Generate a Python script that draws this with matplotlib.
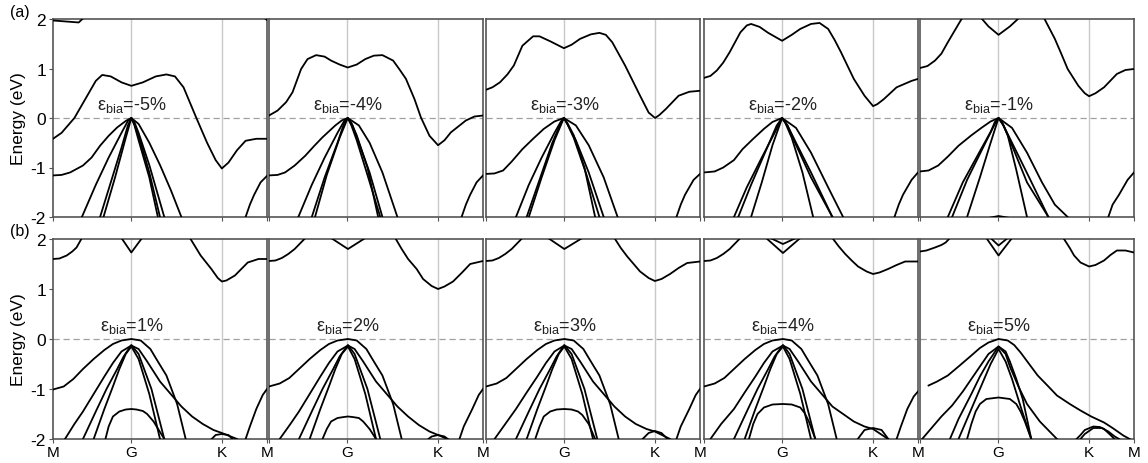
import numpy as np
import matplotlib.pyplot as plt

plt.rcParams['font.family'] = ['Liberation Sans', 'DejaVu Sans']

# k-path positions (normalised): M - G - K - M
k_ticks = [0, 0.366, 0.789, 1.0]
k_names = ['M', 'G', 'K', 'M']

labels_a = ['-5%', '-4%', '-3%', '-2%', '-1%']
labels_b = ['1%', '2%', '3%', '4%', '5%']

# bands: (k, E) pairs
bands_m5 = [
    ([0, .04, .10, .16, .20, .23, .27, .32, .366, .42, .48, .53, .57, .61, .67, .72, .76, .789, .82, .86, .90, .95, 1.0],
     [-.42, -.3, 0, .45, .75, .87, .84, .72, .65, .72, .84, .88, .84, .62, 0, -.5, -.85, -1.02, -.9, -.65, -.46, -.42, -.42]),
    ([0, .12, .15], [1.97, 1.93, 2.05]),
    ([.98, 1.0], [2.05, 1.98]),
    ([0, .04, .08, .14, .18, .22, .26, .30, .34, .366, .40, .45, .50, .55, .60],
     [-1.16, -1.15, -1.10, -.96, -.8, -.56, -.36, -.19, -.06, 0, -.12, -.5, -.95, -1.45, -2.0]),
    ([.135, .20, .26, .32, .35, .366, .38, .40, .45, .52], [-2, -1.35, -.8, -.3, -.06, 0, -.08, -.3, -.95, -2]),
    ([.22, .27, .32, .35, .366, .38, .41, .45, .50], [-2, -1.3, -.6, -.15, 0, -.12, -.5, -1.1, -2]),
    ([.236, .29, .34, .366, .38, .40, .45, .49], [-2, -1.2, -.4, 0, -.14, -.45, -1.2, -2]),
    ([.90, .92, .94, .97, 1.0], [-2, -1.75, -1.55, -1.3, -1.17]),
]
bands_m4 = [
    ([0, .04, .08, .11, .15, .18, .22, .26, .29, .33, .368, .41, .45, .49, .53, .58, .61, .64, .68, .71, .75, .79, .82, .85, .92, .96, 1.0],
     [.05, .15, .32, .52, .99, 1.19, 1.27, 1.24, 1.16, 1.08, 1.02, 1.08, 1.19, 1.26, 1.27, 1.16, .98, .79, .38, .01, -.36, -.55, -.45, -.29, -.05, .03, .05]),
    ([0, .04, .075, .12, .17, .21, .25, .31, .34, .368, .42, .47, .53, .60],
     [-1.16, -1.15, -1.10, -.96, -.76, -.57, -.39, -.15, -.05, 0, -.15, -.5, -1.1, -2.0]),
    ([.137, .20, .26, .32, .35, .368, .385, .41, .46, .51], [-2, -1.35, -.8, -.3, -.07, 0, -.1, -.35, -1.0, -2]),
    ([.20, .26, .32, .35, .368, .39, .42, .47, .53], [-2, -1.2, -.5, -.12, 0, -.15, -.5, -1.1, -2]),
    ([.215, .27, .33, .368, .385, .41, .46, .52], [-2, -1.15, -.4, 0, -.15, -.45, -1.15, -2]),
    ([.90, .92, .94, .97, 1.0], [-2, -1.75, -1.55, -1.3, -1.16]),
]
bands_m3 = [
    ([0, .03, .065, .10, .13, .17, .22, .25, .30, .364, .40, .44, .49, .53, .56, .59, .65, .72, .76, .79, .81, .84, .90, .95, 1.0],
     [.57, .62, .72, .88, 1.06, 1.46, 1.65, 1.65, 1.55, 1.41, 1.48, 1.6, 1.69, 1.72, 1.68, 1.53, 1.06, .45, .11, 0, .06, .18, .45, .53, .55]),
    ([0, .04, .08, .12, .17, .22, .27, .32, .364, .42, .48, .55, .615],
     [-1.13, -1.12, -1.06, -.88, -.63, -.42, -.22, -.07, 0, -.15, -.55, -1.2, -2.0]),
    ([.14, .20, .26, .32, .35, .364, .38, .41, .46, .51], [-2, -1.35, -.8, -.3, -.07, 0, -.1, -.35, -1.0, -2]),
    ([.19, .25, .31, .35, .364, .38, .42, .48, .55], [-2, -1.25, -.5, -.1, 0, -.12, -.45, -1.1, -2]),
    ([.20, .26, .32, .364, .38, .41, .47, .53], [-2, -1.2, -.45, 0, -.12, -.4, -1.15, -2]),
    ([.89, .91, .93, .97, 1.0], [-2, -1.75, -1.55, -1.25, -1.13]),
]
bands_m2 = [
    ([0, .03, .06, .09, .12, .17, .20, .22, .26, .30, .365, .41, .45, .50, .54, .58, .61, .64, .70, .75, .79, .81, .84, .90, .97, 1.0],
     [.81, .85, .96, 1.12, 1.33, 1.73, 1.87, 1.90, 1.84, 1.72, 1.56, 1.68, 1.80, 1.90, 1.92, 1.80, 1.58, 1.33, .79, .45, .24, .28, .38, .62, .75, .79]),
    ([0, .05, .09, .14, .18, .23, .28, .32, .365, .43, .50, .58, .65],
     [-1.10, -1.08, -1.0, -.85, -.63, -.42, -.22, -.08, 0, -.2, -.7, -1.4, -2.0]),
    ([.14, .20, .27, .33, .365, .38, .41, .46, .51], [-2, -1.4, -.8, -.3, 0, -.1, -.4, -1.1, -2]),
    ([.16, .22, .29, .34, .365, .39, .43, .50, .60], [-2, -1.35, -.65, -.15, 0, -.15, -.5, -1.1, -2]),
    ([.22, .27, .32, .365, .39, .42, .50, .60], [-2, -1.3, -.55, 0, -.15, -.45, -1.2, -2]),
    ([.89, .91, .93, .97, 1.0], [-2, -1.75, -1.55, -1.25, -1.10]),
]
bands_m1 = [
    ([0, .035, .07, .10, .13, .16, .19, .21], [1.01, 1.05, 1.16, 1.3, 1.53, 1.75, 1.97, 2.1]),
    ([.57, .60, .63, .66, .69, .74, .77, .79, .82, .86, .92, .96, 1.0],
     [2.1, 1.85, 1.6, 1.3, .99, .65, .5, .44, .5, .62, .89, .97, .99]),
    ([.28, .32, .367, .42, .47], [2.05, 1.85, 1.68, 1.85, 2.05]),
    ([0, .04, .085, .13, .18, .24, .29, .33, .367, .43, .50, .57, .63, .69],
     [-1.08, -1.06, -.96, -.78, -.56, -.35, -.19, -.07, 0, -.2, -.7, -1.3, -1.75, -2.0]),
    ([.13, .20, .27, .33, .35, .367, .385, .41, .45, .50], [-2, -1.3, -.75, -.28, -.08, 0, -.1, -.35, -1.05, -2]),
    ([.15, .22, .30, .35, .367, .39, .43, .51, .60], [-2, -1.25, -.55, -.12, 0, -.15, -.5, -1.2, -2]),
    ([.22, .28, .33, .367, .39, .42, .50, .60], [-2, -1.2, -.5, 0, -.15, -.45, -1.3, -2]),
    ([.32, .367, .42], [-2.02, -1.98, -2.02]),
    ([.88, .90, .93, .97, 1.0], [-2, -1.75, -1.55, -1.25, -1.10]),
]

bands_p1 = [
    ([0, .03, .064, .09, .11, .135], [1.6, 1.61, 1.67, 1.75, 1.83, 2.02]),
    ([.32, .366, .416], [2.02, 1.73, 2.02]),
    ([.64, .69, .74, .77, .789, .81, .85, .91, .96, 1.0],
     [2.02, 1.67, 1.4, 1.22, 1.15, 1.17, 1.27, 1.53, 1.6, 1.6]),
    ([0, .05, .095, .14, .19, .24, .28, .32, .366, .41, .455, .49, .53, .58, .62],
     [-1.01, -.95, -.8, -.6, -.4, -.22, -.1, -.03, 0, -.03, -.2, -.45, -.73, -1.3, -2.0]),
    ([.056, .10, .14, .19, .24, .28, .32, .366, .40, .44, .50, .55, .60, .65, .70, .75, .789, .86],
     [-2, -1.7, -1.45, -1.1, -.75, -.48, -.25, -.13, -.2, -.45, -.85, -1.1, -1.35, -1.55, -1.7, -1.82, -1.88, -2.0]),
    ([.14, .20, .25, .30, .33, .366, .40, .46, .52], [-2, -1.45, -1.0, -.6, -.35, -.12, -.3, -1.0, -2]),
    ([.19, .24, .28, .31, .34, .366, .40, .45, .50], [-2, -1.4, -.95, -.6, -.3, -.15, -.4, -1.1, -2]),
    ([.245, .26, .28, .31, .34, .366, .39, .42, .44, .47, .52], [-2, -1.75, -1.55, -1.45, -1.41, -1.4, -1.41, -1.44, -1.5, -1.65, -2]),
    ([.73, .76, .789, .82, .85], [-2.05, -1.92, -1.9, -1.92, -2.05]),
    ([.90, .92, .95, .98, 1.0], [-2, -1.75, -1.4, -1.12, -1.0]),
]
bands_p2 = [
    ([0, .03, .06, .09, .12, .17], [1.56, 1.57, 1.62, 1.7, 1.8, 2.02]),
    ([.29, .369, .45], [2.02, 1.8, 2.02]),
    ([.59, .62, .65, .69, .72, .76, .79, .82, .86, .90, .94, 1.0],
     [2.02, 1.8, 1.6, 1.4, 1.2, 1.06, 1.0, 1.05, 1.15, 1.32, 1.5, 1.56]),
    ([0, .05, .095, .14, .19, .24, .28, .32, .369, .41, .455, .49, .53, .58, .62],
     [-.95, -.89, -.78, -.6, -.4, -.22, -.1, -.03, 0, -.03, -.2, -.45, -.73, -1.3, -2.0]),
    ([.05, .10, .14, .19, .24, .28, .32, .369, .40, .44, .50, .55, .60, .65, .70, .75, .79, .86],
     [-2, -1.7, -1.45, -1.1, -.75, -.48, -.25, -.13, -.2, -.45, -.85, -1.1, -1.35, -1.55, -1.72, -1.85, -1.92, -2.05]),
    ([.14, .20, .25, .30, .33, .369, .40, .46, .52], [-2, -1.45, -1.0, -.6, -.35, -.12, -.3, -1.0, -2]),
    ([.19, .24, .28, .31, .34, .369, .40, .45, .50], [-2, -1.4, -.95, -.6, -.3, -.15, -.4, -1.1, -2]),
    ([.25, .27, .29, .32, .35, .369, .39, .42, .44, .47, .50], [-2, -1.8, -1.65, -1.58, -1.56, -1.55, -1.56, -1.58, -1.65, -1.8, -2]),
    ([.73, .76, .79, .82, .85], [-2.05, -1.95, -1.92, -1.95, -2.05]),
    ([.89, .91, .95, .98, 1.0], [-2, -1.75, -1.4, -1.12, -1.0]),
]
bands_p3 = [
    ([0, .03, .06, .09, .12, .17], [1.56, 1.57, 1.62, 1.7, 1.8, 2.02]),
    ([.29, .366, .45], [2.02, 1.8, 2.02]),
    ([.60, .63, .66, .69, .72, .76, .789, .82, .86, .90, .94, 1.0],
     [2.02, 1.82, 1.65, 1.5, 1.35, 1.22, 1.16, 1.2, 1.3, 1.42, 1.52, 1.55]),
    ([0, .05, .095, .14, .19, .24, .28, .32, .366, .41, .455, .49, .53, .58, .62],
     [-.95, -.89, -.78, -.6, -.4, -.22, -.1, -.03, 0, -.03, -.2, -.45, -.73, -1.3, -2.0]),
    ([.04, .09, .14, .19, .24, .28, .32, .366, .40, .44, .50, .55, .60, .65, .70, .75, .789, .86],
     [-2, -1.7, -1.4, -1.07, -.75, -.48, -.25, -.13, -.2, -.45, -.85, -1.1, -1.35, -1.55, -1.7, -1.8, -1.85, -2.0]),
    ([.14, .20, .25, .30, .33, .366, .40, .46, .52], [-2, -1.45, -1.0, -.6, -.35, -.12, -.3, -1.0, -2]),
    ([.19, .24, .28, .31, .34, .366, .40, .45, .50], [-2, -1.4, -.95, -.6, -.3, -.15, -.4, -1.1, -2]),
    ([.23, .25, .27, .30, .33, .366, .40, .43, .45, .48, .51], [-2, -1.75, -1.55, -1.45, -1.41, -1.4, -1.41, -1.45, -1.52, -1.7, -2]),
    ([.72, .76, .789, .82, .86], [-2.05, -1.88, -1.84, -1.88, -2.05]),
    ([.89, .91, .95, .98, 1.0], [-2, -1.75, -1.4, -1.12, -1.0]),
]
bands_p4 = [
    ([0, .03, .06, .09, .12, .17], [1.56, 1.57, 1.62, 1.7, 1.8, 2.02]),
    ([.29, .369, .45], [2.02, 1.72, 2.02]),
    ([.31, .369, .43], [2.02, 1.9, 2.02]),
    ([.60, .63, .66, .69, .72, .76, .79, .82, .86, .90, .94, 1.0],
     [2.02, 1.85, 1.7, 1.57, 1.45, 1.35, 1.3, 1.33, 1.4, 1.48, 1.55, 1.55]),
    ([0, .05, .095, .14, .19, .24, .28, .32, .369, .41, .455, .49, .53, .58, .62],
     [-.95, -.89, -.78, -.6, -.4, -.22, -.1, -.03, 0, -.03, -.2, -.45, -.73, -1.3, -2.0]),
    ([.03, .08, .14, .19, .24, .28, .32, .369, .40, .44, .50, .55, .60, .65, .70, .75, .79, .86],
     [-2, -1.7, -1.4, -1.07, -.75, -.48, -.25, -.13, -.2, -.45, -.85, -1.1, -1.35, -1.5, -1.65, -1.75, -1.8, -2.0]),
    ([.14, .20, .25, .30, .33, .369, .40, .46, .52], [-2, -1.45, -1.0, -.6, -.35, -.12, -.3, -1.0, -2]),
    ([.19, .24, .28, .31, .34, .369, .40, .45, .50], [-2, -1.4, -.95, -.6, -.3, -.15, -.4, -1.1, -2]),
    ([.21, .23, .25, .28, .32, .369, .41, .45, .47, .49, .52], [-2, -1.7, -1.5, -1.37, -1.31, -1.3, -1.31, -1.37, -1.48, -1.65, -2]),
    ([.71, .75, .79, .83, .87], [-2.05, -1.82, -1.78, -1.82, -2.05]),
    ([.90, .92, .95, .98, 1.0], [-2, -1.75, -1.4, -1.15, -1.05]),
]
bands_p5 = [
    ([0, .03, .07, .10, .12, .14], [1.75, 1.77, 1.83, 1.88, 1.93, 2.02]),
    ([.31, .367, .43], [2.02, 1.67, 2.02]),
    ([.33, .367, .41], [2.02, 1.87, 2.02]),
    ([.67, .70, .72, .75, .79, .82, .86, .89, .92, .96, 1.0],
     [2.02, 1.82, 1.67, 1.53, 1.45, 1.48, 1.57, 1.68, 1.77, 1.77, 1.73]),
    ([.04, .08, .13, .18, .24, .28, .32, .367, .41, .44, .47, .51, .55, .60, .64, .70, .75, .80, .86, .90, .95, .98],
     [-.93, -.85, -.73, -.55, -.33, -.18, -.07, 0, -.03, -.12, -.27, -.5, -.73, -.95, -1.13, -1.3, -1.43, -1.55, -1.67, -1.78, -1.93, -2.0]),
    ([.01, .06, .10, .15, .20, .24, .28, .32, .367, .40, .42, .45, .48, .52],
     [-2, -1.75, -1.55, -1.33, -1.05, -.8, -.55, -.3, -.15, -.25, -.45, -.8, -1.2, -2]),
    ([.14, .18, .24, .28, .32, .367, .40, .42, .46, .50, .56, .64], [-2, -1.6, -1.1, -.75, -.45, -.15, -.3, -.55, -.95, -1.3, -1.65, -2]),
    ([.18, .22, .26, .30, .33, .367, .40, .43, .47, .52], [-2, -1.6, -1.2, -.8, -.5, -.2, -.45, -.8, -1.35, -2]),
    ([.22, .24, .26, .28, .31, .367, .42, .45, .47, .49, .52], [-2, -1.7, -1.45, -1.3, -1.2, -1.17, -1.2, -1.3, -1.45, -1.65, -2]),
    ([.72, .75, .77, .81, .84, .86, .89, .92], [-2.05, -1.92, -1.82, -1.75, -1.76, -1.8, -1.92, -2.05]),
    ([.74, .77, .81, .85, .88, .91, .95], [-2.05, -1.9, -1.78, -1.78, -1.85, -1.95, -2.05]),
]

row_a = [bands_m5, bands_m4, bands_m3, bands_m2, bands_m1]
row_b = [bands_p1, bands_p2, bands_p3, bands_p4, bands_p5]

fig = plt.figure(figsize=(11.48, 4.64), dpi=100)
lefts = [53, 269, 486, 704, 920]
W, H = 1148, 464
rows = [(20, 218), (240, 440)]

for r, (rowbands, labs) in enumerate([(row_a, labels_a), (row_b, labels_b)]):
    top, bot = rows[r]
    for c in range(5):
        ax = fig.add_axes([lefts[c] / W, 1 - bot / H, 214 / W, (bot - top) / H])
        for xv in k_ticks[1:3]:
            ax.axvline(xv, color='#c8c8c8', lw=1, zorder=1)
        ax.axhline(0, color='#a0a0a0', lw=0.9, dashes=(5, 3), zorder=1)
        for k, e in rowbands[c]:
            ax.plot(k, e, color='black', lw=1.3, zorder=3, solid_joinstyle='round')
        ax.set_xlim(0, 1)
        ax.set_ylim(-2, 2)
        ax.set_xticks(k_ticks)
        if r == 1:
            names = k_names if c == 0 else [''] + k_names[1:]
            ax.set_xticklabels(names, fontsize=11)
        else:
            ax.set_xticklabels([])
        ax.tick_params(axis='x', length=3, width=0.8, color='#555555', pad=1)
        if c == 0:
            ax.set_yticks([-2, -1, 0, 1, 2])
            ax.set_yticklabels(['-2', '-1', '0', '1', '2'], fontsize=12.5)
            ax.tick_params(axis='y', length=3, width=0.8, color='#555555', pad=2)
            ax.set_ylabel('Energy (eV)', fontsize=12.5, labelpad=3)
        else:
            ax.set_yticks([])
        for s in ax.spines.values():
            s.set_color('#555555')
            s.set_linewidth(1.2)
        ax.text(0.366, 0.08, r'$\mathregular{\epsilon_{bia}}$=' + labs[c], ha='center', va='bottom',
                fontsize=13, color='#222222', zorder=4)

fig.text(10 / W, 1 - 12 / H, '(a)', fontsize=11.5, va='center')
fig.text(10 / W, 1 - 232 / H, '(b)', fontsize=11.5, va='center')

plt.savefig('out.png', dpi=100)
